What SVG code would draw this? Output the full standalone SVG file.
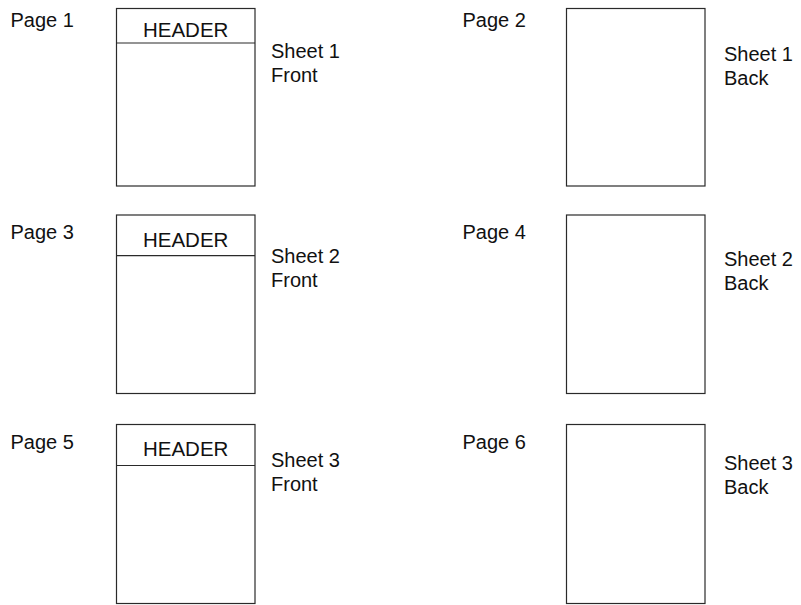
<svg xmlns="http://www.w3.org/2000/svg" width="801" height="605" viewBox="0 0 801 605">
<style>
.box{fill:#fff;stroke:#2a2a2a;stroke-width:1.2}
.ln{stroke:#2a2a2a;stroke-width:1.2}
text{font-family:"Liberation Sans",Arial,Helvetica,sans-serif;font-size:20px;fill:#111}
.hd{text-anchor:middle}
</style>
<rect width="801" height="605" fill="#fff"/>
<g id="page1">
<text x="10.5" y="27">Page 1</text>
<rect class="box" x="116.5" y="8.5" width="138.5" height="177.5"/>
<line class="ln" x1="116.5" y1="43" x2="255" y2="43"/>
<text class="hd" x="185.7" y="37" textLength="85.5" lengthAdjust="spacingAndGlyphs">HEADER</text>
<text x="271" y="57.5">Sheet 1</text>
<text x="271" y="81.5">Front</text>
</g>
<g id="page2">
<text x="462.5" y="27">Page 2</text>
<rect class="box" x="566.5" y="8.5" width="138.5" height="177.5"/>
<text x="724" y="61">Sheet 1</text>
<text x="724" y="85">Back</text>
</g>
<g id="page3">
<text x="10.5" y="238.5">Page 3</text>
<rect class="box" x="116.5" y="215" width="138.5" height="178.5"/>
<line class="ln" x1="116.5" y1="255.7" x2="255" y2="255.7"/>
<text class="hd" x="185.7" y="246.5" textLength="85.5" lengthAdjust="spacingAndGlyphs">HEADER</text>
<text x="271" y="262.5">Sheet 2</text>
<text x="271" y="286.5">Front</text>
</g>
<g id="page4">
<text x="462.5" y="238.5">Page 4</text>
<rect class="box" x="566.5" y="215" width="138.5" height="178.5"/>
<text x="724" y="265.5">Sheet 2</text>
<text x="724" y="289.5">Back</text>
</g>
<g id="page5">
<text x="10.5" y="448.5">Page 5</text>
<rect class="box" x="116.5" y="424.5" width="138.5" height="179"/>
<line class="ln" x1="116.5" y1="465.5" x2="255" y2="465.5"/>
<text class="hd" x="185.7" y="455.5" textLength="85.5" lengthAdjust="spacingAndGlyphs">HEADER</text>
<text x="271" y="467">Sheet 3</text>
<text x="271" y="491">Front</text>
</g>
<g id="page6">
<text x="462.5" y="448.5">Page 6</text>
<rect class="box" x="566.5" y="424.5" width="138.5" height="179"/>
<text x="724" y="470">Sheet 3</text>
<text x="724" y="494">Back</text>
</g>
<g id="connectors"></g>
</svg>
